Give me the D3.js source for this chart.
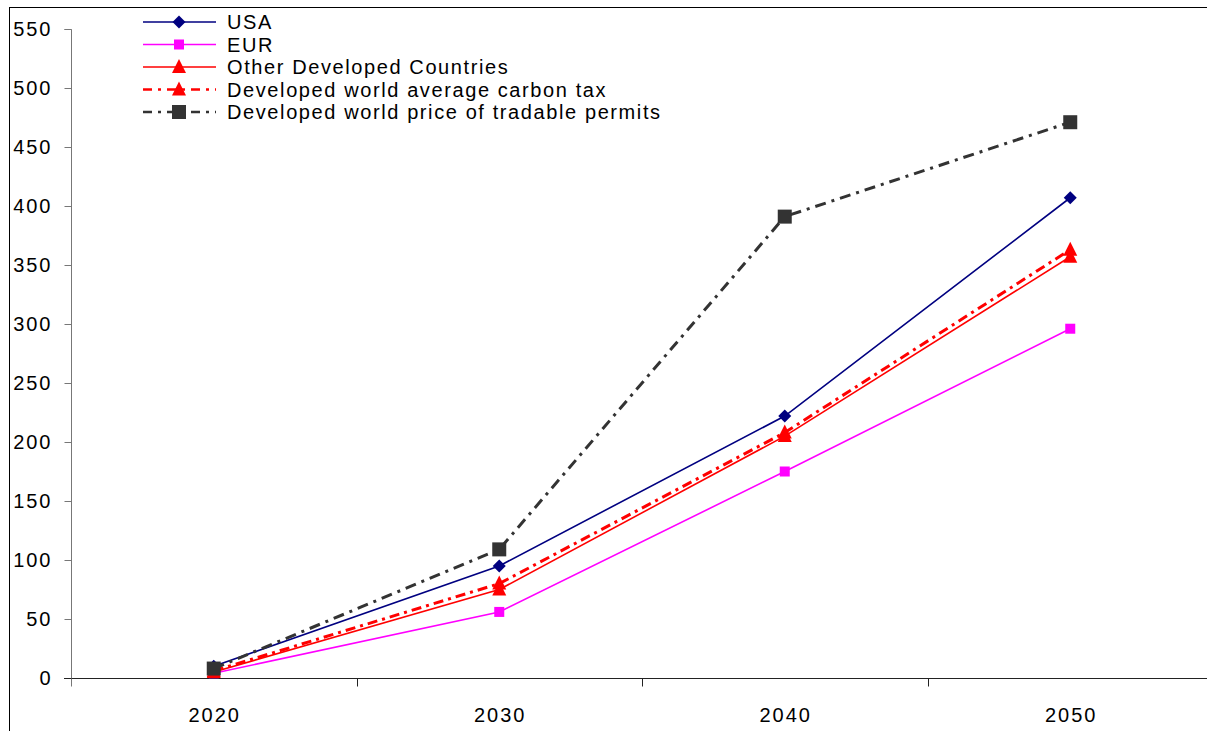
<!DOCTYPE html>
<html>
<head>
<meta charset="utf-8">
<script src="https://cdn.jsdelivr.net/npm/d3@7"></script>
<style>
  html, body { margin: 0; padding: 0; background: #fff; }
  svg { display: block; font-family: "Liberation Sans", Arial, sans-serif; }
</style>
</head>
<body>
<svg id="chart" width="1207" height="731"></svg>
<script>
// Years on the category axis
const years = ["2020", "2030", "2040", "2050"];

// Carbon price series
const usa = [10, 95, 222, 407];
const eur = [4, 56, 175, 296];
const otherDeveloped = [5, 75, 205, 357];
const avgCarbonTax = [6, 80, 208, 363];
const tradablePermits = [8, 109, 391, 471];

// Value axis ticks
const yTicks = [0, 50, 100, 150, 200, 250, 300, 350, 400, 450, 500, 550];

const seriesNames = [
  "USA",
  "EUR",
  "Other Developed Countries",
  "Developed world average carbon tax",
  "Developed world price of tradable permits"
];

const series = [
  { name: seriesNames[0], values: usa, color: "#000080", width: 1.6, dash: null, marker: "diamond", size: 13, mcolor: "#000080" },
  { name: seriesNames[1], values: eur, color: "#FF00FF", width: 1.6, dash: null, marker: "square", size: 10, mcolor: "#FF00FF" },
  { name: seriesNames[2], values: otherDeveloped, color: "#FF0000", width: 1.6, dash: null, marker: "triangle", size: 14, mcolor: "#FF0000" },
  { name: seriesNames[3], values: avgCarbonTax, color: "#FF0000", width: 3, dash: "10,5,3,5", marker: "triangle", size: 14, mcolor: "#FF0000" },
  { name: seriesNames[4], values: tradablePermits, color: "#333333", width: 3, dash: "11,6,3,6", marker: "square", size: 14, mcolor: "#333333" }
];

const svg = d3.select("#chart");

// Outer chart border
svg.append("rect")
  .attr("x", 9.5).attr("y", 7.5)
  .attr("width", 1400).attr("height", 900)
  .attr("fill", "none").attr("stroke", "#000").attr("stroke-width", 1);

const plotLeft = 71, plotRight = 1213, plotTop = 29, plotBottom = 678;

const x = d3.scaleBand().domain(years).range([plotLeft, plotRight]).padding(0);
const xc = d => x(d) + x.bandwidth() / 2;
const y = d3.scaleLinear().domain([0, 550]).range([plotBottom, plotTop]);

// Y axis
const yAxis = d3.axisLeft(y).tickValues(yTicks).tickSize(7).tickPadding(12).tickFormat(d3.format("d"));
const gy = svg.append("g").attr("transform", `translate(${plotLeft + 0.5},0)`).call(yAxis);
gy.select(".domain").attr("stroke", "#777").attr("d", `M-7,${plotTop + 0.5}H0V${plotBottom + 0.5}`);
gy.selectAll(".tick line").attr("stroke", "#777");
gy.selectAll(".tick text").attr("font-size", 20).attr("fill", "#000")
  .attr("letter-spacing", "2px")
  .attr("font-family", "'Liberation Sans', Arial, sans-serif");

// X axis with ticks at category boundaries
const xAxisG = svg.append("g").attr("transform", `translate(0,${plotBottom + 0.5})`);
xAxisG.append("line")
  .attr("x1", plotLeft - 7).attr("x2", 1207)
  .attr("stroke", "#222").attr("stroke-width", 1.2);
const boundaries = years.map(d => x(d)).concat([x(years[years.length - 1]) + x.bandwidth()]);
xAxisG.selectAll("line.tk").data(boundaries).join("line")
  .attr("class", "tk")
  .attr("x1", d => Math.round(d) + 0.5).attr("x2", d => Math.round(d) + 0.5)
  .attr("y1", 0).attr("y2", 8)
  .attr("stroke", (d, i) => i === 0 ? "#777" : "#222");
xAxisG.selectAll("text").data(years).join("text")
  .attr("x", d => xc(d) + 1)
  .attr("y", 43)
  .attr("text-anchor", "middle")
  .attr("font-size", 20)
  .attr("letter-spacing", "2px")
  .attr("fill", "#000")
  .text(d => d);

// Marker drawing helper
function drawMarker(g, type, size, color) {
  if (type === "diamond") {
    const h = size / 2;
    g.append("path").attr("d", `M0,${-h}L${h},0L0,${h}L${-h},0Z`).attr("fill", color);
  } else if (type === "square") {
    g.append("rect").attr("x", -size / 2).attr("y", -size / 2)
      .attr("width", size).attr("height", size).attr("fill", color);
  } else if (type === "triangle") {
    const h = size / 2;
    g.append("path").attr("d", `M0,${-h - 1}L${h},${h - 1}L${-h},${h - 1}Z`).attr("fill", color);
  }
}

const line = d3.line().x((d, i) => xc(years[i])).y(d => y(d));

// Series lines and markers
series.forEach(s => {
  const g = svg.append("g");
  g.append("path")
    .datum(s.values)
    .attr("d", line)
    .attr("fill", "none")
    .attr("stroke", s.color)
    .attr("stroke-width", s.width)
    .attr("stroke-dasharray", s.dash);
  s.values.forEach((v, i) => {
    const mg = g.append("g").attr("transform", `translate(${xc(years[i])},${y(v)})`);
    drawMarker(mg, s.marker, s.size, s.mcolor);
  });
});

// Legend
const legend = svg.append("g");
series.forEach((s, i) => {
  const ly = 22 + i * 22.5;
  const g = legend.append("g").attr("transform", `translate(0,${ly})`);
  g.append("line")
    .attr("x1", 143).attr("x2", 216)
    .attr("stroke", s.color)
    .attr("stroke-width", s.dash ? 2.5 : 1.6)
    .attr("stroke-dasharray", s.dash ? "9,6,3,6" : null);
  const mg = g.append("g").attr("transform", "translate(179,0)");
  drawMarker(mg, s.marker, s.size, s.mcolor);
  g.append("text")
    .attr("x", 227)
    .attr("y", 7)
    .attr("font-size", 20)
    .attr("letter-spacing", "1.6px")
    .attr("fill", "#000")
    .text(s.name);
});
</script>
</body>
</html>
